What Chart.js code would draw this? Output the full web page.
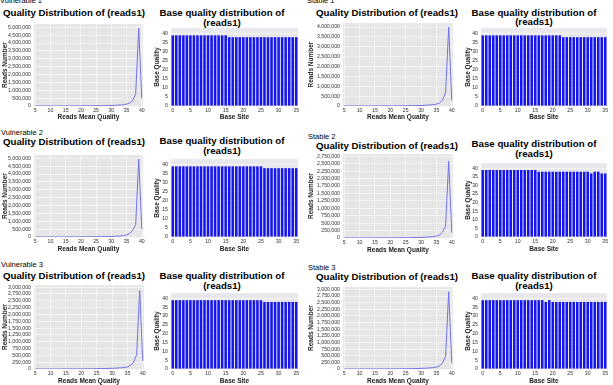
<!DOCTYPE html>
<html>
<head>
<meta charset="utf-8">
<script src="https://cdn.jsdelivr.net/npm/chart.js@4/dist/chart.umd.min.js"></script>
<style>
  body{margin:0;background:#fff;width:613px;height:385px;overflow:hidden;position:relative;font-family:"Liberation Sans",Arial,sans-serif}
  canvas{position:absolute}
  .lbl{position:absolute;font-size:7.5px;line-height:9px;white-space:nowrap;color:#000}
  .ttl{position:absolute;width:200px;font-weight:bold;font-size:9.7px;line-height:9.5px;text-align:center;white-space:nowrap;color:#000}
</style>
</head>
<body>
<script>
// x values of the quality distribution (reads mean quality)
const qualityBins = [5,6,7,8,9,10,11,12,13,14,15,16,17,18,19,20,21,22,23,24,25,26,27,28,29,30,31,32,33,34,35,36,37,38,39,40];
// base positions for the base quality bars
const baseSites = [0,1,2,3,4,5,6,7,8,9,10,11,12,13,14,15,16,17,18,19,20,21,22,23,24,25,26,27,28,29,30,31,32,33,34,35];

// tick values
const ticks5M = [0,500000,1000000,1500000,2000000,2500000,3000000,3500000,4000000,4500000,5000000];
const ticks4M = [0,500000,1000000,1500000,2000000,2500000,3000000,3500000,4000000];
const ticks3M = [0,250000,500000,750000,1000000,1250000,1500000,1750000,2000000,2250000,2500000,2750000,3000000];
const ticks275 = [0,250000,500000,750000,1000000,1250000,1500000,1750000,2000000,2250000,2500000,2750000];
const baseQualityTicks = [0,5,10,15,20,25,30,35,40];

// reads number per mean quality
const vul1Reads = [2000,2000,2000,2500,2500,3000,3000,3500,4000,4500,5000,5500,6000,7000,8000,9000,10000,11000,12000,14000,16000,18000,21000,25000,30000,36000,43000,52000,65000,85000,120000,190000,340000,780000,4950000,480000];
const vul2Reads = [2000,2000,2000,2500,2500,3000,3000,3500,4000,4500,5000,5500,6000,7000,8000,9000,10000,11000,12000,14000,16000,18000,21000,25000,30000,36000,44000,55000,70000,90000,130000,230000,410000,800000,4950000,500000];
const vul3Reads = [1000,1000,1000,1500,1500,2000,2000,2500,2500,3000,3000,3500,4000,4500,5000,6000,7000,8000,9000,10000,12000,14000,16000,19000,22000,26000,31000,37000,45000,55000,75000,130000,250000,520000,2870000,300000];
const sta1Reads = [1500,1500,1500,2000,2000,2500,2500,3000,3000,3500,4000,4500,5000,5500,6000,7000,8000,9000,10000,11000,13000,15000,17000,20000,24000,29000,35000,43000,55000,70000,95000,150000,300000,700000,4000000,280000];
const sta2Reads = [1000,1000,1000,1000,1500,1500,2000,2000,2500,2500,3000,3000,3500,4000,4500,5000,6000,7000,8000,9000,10000,12000,14000,16000,19000,22000,26000,31000,38000,48000,65000,100000,200000,420000,2580000,180000];
const sta3Reads = [1000,1000,1000,1000,1500,1500,2000,2000,2500,2500,3000,3000,3500,4000,4500,5000,6000,7000,8000,9000,10000,12000,14000,17000,20000,24000,28000,34000,42000,52000,72000,110000,230000,480000,2910000,220000];

// mean base quality per site
const vul1Base = [39,39,39,39,39,39,39,39,39,39,39,39,39,39,39,39,38,38,38,38,38,38,38,38,38,38,38,38,38,38,38,38,38,38,38,38];
const vul2Base = [39,39,39,39,39,39,39,39,39,39,39,39,39,39,39,39,39,39,39,39,39,39,39,39,39,39,38,38,38,38,38,38,38,38,38,38];
const vul3Base = [39,39,39,39,39,39,39,39,39,39,39,39,39,39,39,39,39,39,39,39,39,39,39,39,39,39,38,38,38,38,38,38,38,38,38,38];
const sta1Base = [39,39,39,39,39,39,39,39,39,39,39,39,39,39,39,39,39,39,39,39,39,39,39,38,38,38,38,38,38,38,38,38,38,38,38,38];
const sta2Base = [39,39,39,39,39,39,39,39,39,39,39,39,39,39,39,39,38,38,38,38,38,38,38,38,38,38,38,38,38,38,38,37,38,38,37,37];
const sta3Base = [39,39,39,39,39,39,39,39,39,39,39,39,39,39,39,39,39,39,38,39,38,38,38,38,38,38,38,38,38,38,38,38,38,38,38,38];

const tickFont = { family:"Liberation Sans", size:5.2 };
const axisFont = { family:"Liberation Sans", size:6.5, weight:"bold" };

const plotBg = {
  id: "plotBg",
  beforeDraw(chart, args, opts){
    const { ctx, chartArea:a } = chart;
    ctx.save();
    ctx.fillStyle = opts.color || "#e6e6e6";
    ctx.fillRect(a.left, a.top, a.right - a.left, a.bottom - a.top);
    ctx.restore();
  }
};

function addText(cls, html, left, top){
  const d = document.createElement("div");
  d.className = cls;
  d.innerHTML = html;
  d.style.left = left + "px";
  d.style.top = top + "px";
  document.body.appendChild(d);
}

function addCanvas(p){
  const c = document.createElement("canvas");
  const left = p.l - p.yw, top = p.t - 5;
  c.width = p.r + 5 - left;
  c.height = p.b + p.xh - top;
  c.style.left = left + "px";
  c.style.top = top + "px";
  document.body.appendChild(c);
  return c;
}

function lineChart(p, reads){
  const c = addCanvas(p);
  new Chart(c, {
    type: "line",
    data: {
      datasets: [{
        data: qualityBins.map((x, i) => ({ x, y: reads[i] })),
        borderColor: "#7373e6",
        borderWidth: 1,
        pointRadius: 0,
        tension: 0
      }]
    },
    options: {
      responsive: false, animation: false, devicePixelRatio: 1,
      layout: { padding: { top:5, right:5, left:0, bottom:0 } },
      plugins: { legend:{ display:false }, tooltip:{ enabled:false }, plotBg:{ color:"#e6e6e6" } },
      scales: {
        x: {
          type: "linear", min: 4.6, max: 40.4,
          ticks: { stepSize:5, includeBounds:false, font:tickFont, color:"#333", padding:1, maxRotation:0, autoSkip:false },
          grid: { color:"#f6f6f6", lineWidth:0.8, drawTicks:false },
          border: { display:false },
          title: { display:true, text:"Reads Mean Quality", font:axisFont, color:"#222", padding:{ top:0, bottom:0 } },
          afterFit(s){ s.height = p.xh; }
        },
        y: {
          min: 0, max: p.max,
          afterBuildTicks(s){ s.ticks = p.ticks.map(v => ({ value:v })); },
          ticks: { font:tickFont, color:"#333", padding:3, autoSkip:false,
                   callback: v => v.toLocaleString("en-US") },
          grid: { color:"#f6f6f6", lineWidth:0.8, drawTicks:false },
          border: { display:false },
          title: { display:true, text:"Reads Number", font:axisFont, color:"#222", padding:{ top:1, bottom:0 } },
          afterFit(s){ s.width = p.yw; }
        }
      }
    },
    plugins: [plotBg]
  });
}

function barChart(p, vals){
  const c = addCanvas(p);
  new Chart(c, {
    type: "bar",
    data: {
      labels: baseSites,
      datasets: [{
        data: vals,
        backgroundColor: "#1515ee",
        borderWidth: 0,
        barPercentage: 0.72,
        categoryPercentage: 1
      }]
    },
    options: {
      responsive: false, animation: false, devicePixelRatio: 1,
      layout: { padding: { top:5, right:5, left:0, bottom:0 } },
      plugins: { legend:{ display:false }, tooltip:{ enabled:false }, plotBg:{ color:"#e8e8ec" } },
      scales: {
        x: {
          offset: true,
          ticks: { font:tickFont, color:"#333", padding:1, autoSkip:false, maxRotation:0,
                   callback: (v, i) => baseSites[i] % 5 === 0 ? String(baseSites[i]) : "" },
          grid: { display:false, drawTicks:false },
          border: { display:false },
          title: { display:true, text:"Base Site", font:axisFont, color:"#222", padding:{ top:0, bottom:0 } },
          afterFit(s){ s.height = p.xh; }
        },
        y: {
          min: 0, max: 43,
          afterBuildTicks(s){ s.ticks = baseQualityTicks.map(v => ({ value:v })); },
          ticks: { font:tickFont, color:"#333", padding:3, autoSkip:false },
          grid: { color:"#f6f6f6", lineWidth:0.8, drawTicks:false },
          border: { display:false },
          title: { display:true, text:"Base Quality", font:axisFont, color:"#222", padding:{ top:1, bottom:0 } },
          afterFit(s){ s.width = p.yw; }
        }
      }
    },
    plugins: [plotBg]
  });
}

// panel labels
addText("lbl", "Vulnerable 1", 0, -4.5);
addText("lbl", "Vulnerable 2", 1, 127.5);
addText("lbl", "Vulnerable 3", 1, 259.5);
addText("lbl", "Stable 1", 307, -4.5);
addText("lbl", "Stable 2", 308, 131.5);
addText("lbl", "Stable 3", 308, 262.5);

// chart titles
const qTitle = "Quality Distribution of (reads1)";
const bTitle = "Base quality distribution of<br>(reads1)";
addText("ttl", qTitle, 74 - 100, 13 - 4.75);
addText("ttl", qTitle, 74 - 100, 142 - 4.75);
addText("ttl", qTitle, 74 - 100, 276 - 4.75);
addText("ttl", qTitle, 387 - 100, 13 - 4.75);
addText("ttl", qTitle, 387 - 100, 146 - 4.75);
addText("ttl", qTitle, 387 - 100, 277 - 4.75);
addText("ttl", bTitle, 222 - 100, 13 - 4.75);
addText("ttl", bTitle, 222 - 100, 141 - 4.75);
addText("ttl", bTitle, 222 - 100, 276 - 4.75);
addText("ttl", bTitle, 534 - 100, 12.5 - 4.75);
addText("ttl", bTitle, 534 - 100, 144 - 4.75);
addText("ttl", bTitle, 534 - 100, 276 - 4.75);

// quality distribution line charts
lineChart({ l:34, r:143, t:23, b:106, yw:34, xh:15, max:5200000, ticks:ticks5M }, vul1Reads);
lineChart({ l:34, r:143, t:154, b:237, yw:34, xh:16, max:5200000, ticks:ticks5M }, vul2Reads);
lineChart({ l:34, r:144, t:284, b:369, yw:34, xh:16, max:3075000, ticks:ticks3M }, vul3Reads);
lineChart({ l:343, r:453, t:22, b:106, yw:37, xh:15, max:4200000, ticks:ticks4M }, sta1Reads);
lineChart({ l:343, r:453, t:153, b:238, yw:37, xh:16, max:2820000, ticks:ticks275 }, sta2Reads);
lineChart({ l:343, r:453, t:286, b:369, yw:37, xh:16, max:3085000, ticks:ticks3M }, sta3Reads);

// base quality bar charts
barChart({ l:171, r:298, t:27, b:106, yw:19, xh:15 }, vul1Base);
barChart({ l:171, r:298, t:158, b:237, yw:19, xh:16 }, vul2Base);
barChart({ l:171, r:298, t:292, b:369, yw:19, xh:16 }, vul3Base);
barChart({ l:481, r:607, t:27, b:106, yw:18, xh:15 }, sta1Base);
barChart({ l:481, r:607, t:162, b:237, yw:18, xh:16 }, sta2Base);
barChart({ l:481, r:607, t:292, b:369, yw:18, xh:16 }, sta3Base);
</script>
</body>
</html>
